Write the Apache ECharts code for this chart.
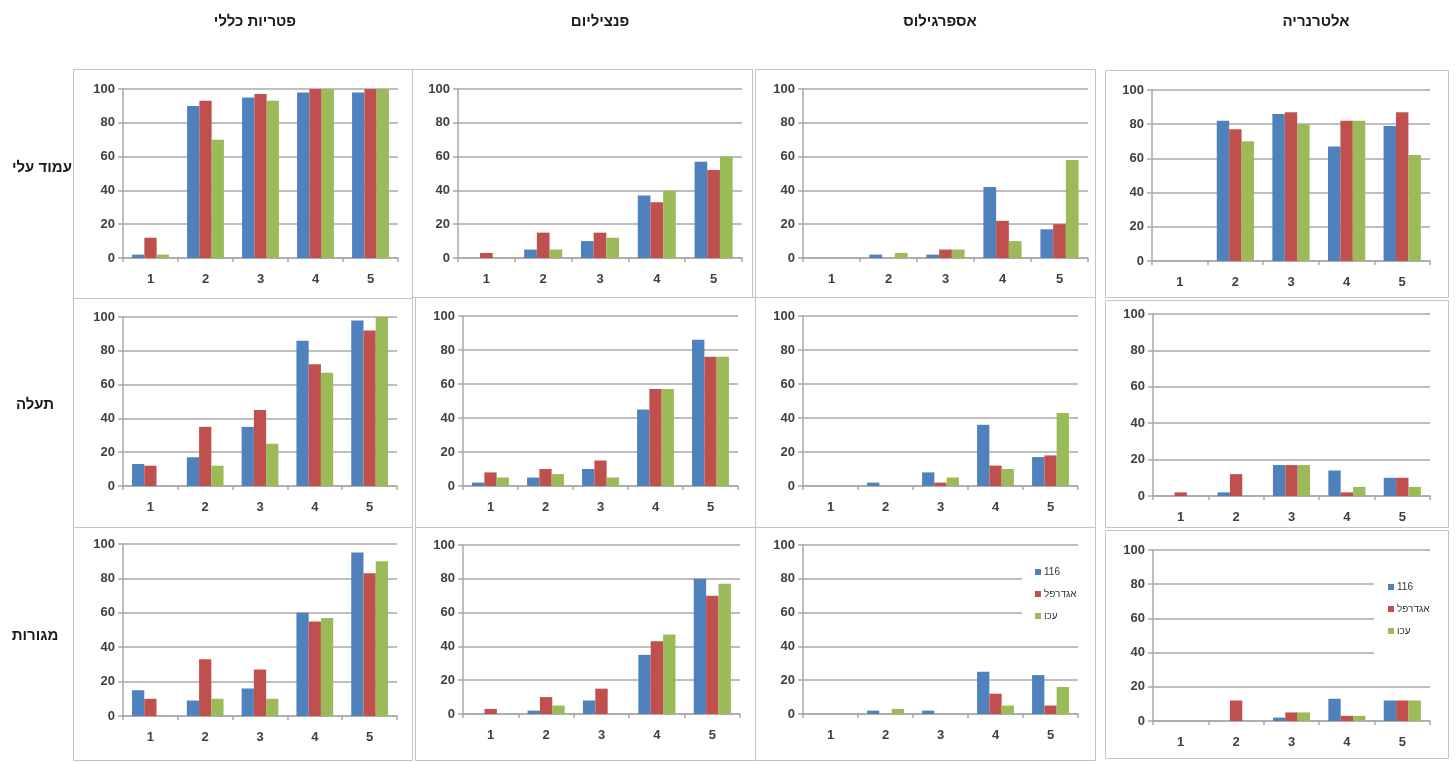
<!DOCTYPE html>
<html lang="he">
<head>
<meta charset="utf-8">
<title>פטריות לפי אתר ושלב</title>
<script src="https://cdn.jsdelivr.net/npm/echarts@6/dist/echarts.min.js"></script>
<style>
  html, body { margin: 0; padding: 0; background: #ffffff; }
  #chart { width: 1456px; height: 762px; }
</style>
</head>
<body>
<div id="chart"></div>
<script>
// Categories on every x axis and the three varieties drawn as bars
const categories = ['1', '2', '3', '4', '5'];
const seriesNames = ['116', 'אגדרפל', 'עכו'];
const columnNames = ['פטריות כללי', 'פנציליום', 'אספרגילוס', 'אלטרנריה'];
const rowNames = ['עמוד עלי', 'תעלה', 'מגורות'];

// Values per panel: [116, אגדרפל, עכו], each over categories 1..5
// Row: עמוד עלי
const generalStem     = [[2, 90, 95, 98, 98], [12, 93, 97, 100, 100], [2, 70, 93, 100, 100]];
const penicilliumStem = [[0, 5, 10, 37, 57], [3, 15, 15, 33, 52], [0, 5, 12, 40, 60]];
const aspergillusStem = [[0, 2, 2, 42, 17], [0, 0, 5, 22, 20], [0, 3, 5, 10, 58]];
const alternariaStem  = [[0, 82, 86, 67, 79], [0, 77, 87, 82, 87], [0, 70, 80, 82, 62]];
// Row: תעלה
const generalTrench     = [[13, 17, 35, 86, 98], [12, 35, 45, 72, 92], [0, 12, 25, 67, 100]];
const penicilliumTrench = [[2, 5, 10, 45, 86], [8, 10, 15, 57, 76], [5, 7, 5, 57, 76]];
const aspergillusTrench = [[0, 2, 8, 36, 17], [0, 0, 2, 12, 18], [0, 0, 5, 10, 43]];
const alternariaTrench  = [[0, 2, 17, 14, 10], [2, 12, 17, 2, 10], [0, 0, 17, 5, 5]];
// Row: מגורות
const generalSilo     = [[15, 9, 16, 60, 95], [10, 33, 27, 55, 83], [0, 10, 10, 57, 90]];
const penicilliumSilo = [[0, 2, 8, 35, 80], [3, 10, 15, 43, 70], [0, 5, 0, 47, 77]];
const aspergillusSilo = [[0, 2, 2, 25, 23], [0, 0, 0, 12, 5], [0, 3, 0, 5, 16]];
const alternariaSilo  = [[0, 0, 2, 13, 12], [0, 12, 5, 3, 12], [0, 0, 5, 3, 12]];

const panelData = [
  generalStem, penicilliumStem, aspergillusStem, alternariaStem,
  generalTrench, penicilliumTrench, aspergillusTrench, alternariaTrench,
  generalSilo, penicilliumSilo, aspergillusSilo, alternariaSilo
];

// Layout: plot areas and outer frames of the 4x3 panels
const plotBoxes = [
  [123, 89, 275, 169], [458, 89, 284, 169], [803, 89, 285, 169], [1152, 90, 278, 171],
  [123, 317, 274, 169], [463, 316, 275, 170], [803, 316, 275, 170], [1153, 314, 277, 182],
  [123, 544, 274, 172], [463, 545, 277, 169], [803, 545, 275, 169], [1153, 550, 277, 171]
];
const frames = [
  [73, 69, 339, 229], [412, 69, 340, 228], [755, 69, 340, 228], [1105, 70, 343, 227],
  [73, 298, 339, 229], [415, 297, 340, 230], [755, 297, 340, 230], [1105, 300, 343, 227],
  [73, 527, 339, 233], [415, 527, 340, 233], [755, 527, 340, 233], [1105, 530, 343, 228]
];
const headerX = [255, 600, 940, 1316];
const rowLabelPos = [[42, 168], [35, 405], [35, 636]];
const colors = ['#4F81BD', '#C0504D', '#9BBB59'];

const grid = [], xAxis = [], yAxis = [], series = [];
const gridColor = '#a9a9a9';
const labelFont = "'Liberation Sans', 'DejaVu Sans', sans-serif";

panelData.forEach((panel, i) => {
  const b = plotBoxes[i];
  grid.push({ left: b[0], top: b[1], width: b[2], height: b[3], containLabel: false });
  xAxis.push({
    type: 'category', gridIndex: i, data: categories,
    axisLine: { show: true, lineStyle: { color: gridColor, width: 1.5 } },
    axisTick: { show: true, length: 4, lineStyle: { color: gridColor, width: 1.5 } },
    axisLabel: { margin: 15, fontSize: 13, color: '#404040', fontFamily: labelFont, fontWeight: 'bold' }
  });
  yAxis.push({
    type: 'value', gridIndex: i, min: 0, max: 100, interval: 20,
    axisLine: { show: true, lineStyle: { color: gridColor, width: 1.5 } },
    axisTick: { show: true, length: 5, lineStyle: { color: gridColor, width: 1.5 } },
    splitLine: { show: true, lineStyle: { color: gridColor, width: 1.5 } },
    axisLabel: { margin: 8, fontSize: 13, color: '#404040', fontFamily: labelFont, fontWeight: 'bold' }
  });
  panel.forEach((vals, k) => {
    series.push({
      type: 'bar', name: seriesNames[k], xAxisIndex: i, yAxisIndex: i,
      data: vals, barGap: '0%', barCategoryGap: '33%',
      itemStyle: { color: colors[k] }, emphasis: { disabled: true }
    });
  });
});

const graphics = [];
frames.forEach(f => {
  graphics.push({
    type: 'rect', z: -1, silent: true,
    shape: { x: f[0] + 0.5, y: f[1] + 0.5, width: f[2], height: f[3] },
    style: { fill: null, stroke: '#c4c4c4', lineWidth: 1 }
  });
});
columnNames.forEach((name, c) => {
  graphics.push({
    type: 'text', x: headerX[c], y: 22, silent: true,
    style: { text: name, fill: '#1a1a1a', font: "bold 15px 'Liberation Sans', 'DejaVu Sans', sans-serif",
             textAlign: 'center', textVerticalAlign: 'middle' }
  });
});
rowNames.forEach((name, r) => {
  graphics.push({
    type: 'text', x: rowLabelPos[r][0], y: rowLabelPos[r][1], silent: true,
    style: { text: name, fill: '#1a1a1a', font: "bold 15px 'Liberation Sans', 'DejaVu Sans', sans-serif",
             textAlign: 'center', textVerticalAlign: 'middle' }
  });
});

const legendBase = {
  data: seriesNames, orient: 'vertical', icon: 'rect',
  itemWidth: 6, itemHeight: 6, itemGap: 10,
  backgroundColor: '#ffffff',
  selectedMode: false,
  textStyle: { fontSize: 10, color: '#333333', lineHeight: 12, padding: [0, 0, 0, -2],
               fontFamily: labelFont }
};

const chart = echarts.init(document.getElementById('chart'), null, { renderer: 'canvas' });
chart.setOption({
  animation: false,
  backgroundColor: '#ffffff',
  grid, xAxis, yAxis, series,
  legend: [
    Object.assign({}, legendBase, { left: 1022, top: 558, padding: [8, 2, 8, 13] }),
    Object.assign({}, legendBase, { left: 1374, top: 573, padding: [8, 2, 18, 14] })
  ],
  graphic: graphics
});
</script>
</body>
</html>
